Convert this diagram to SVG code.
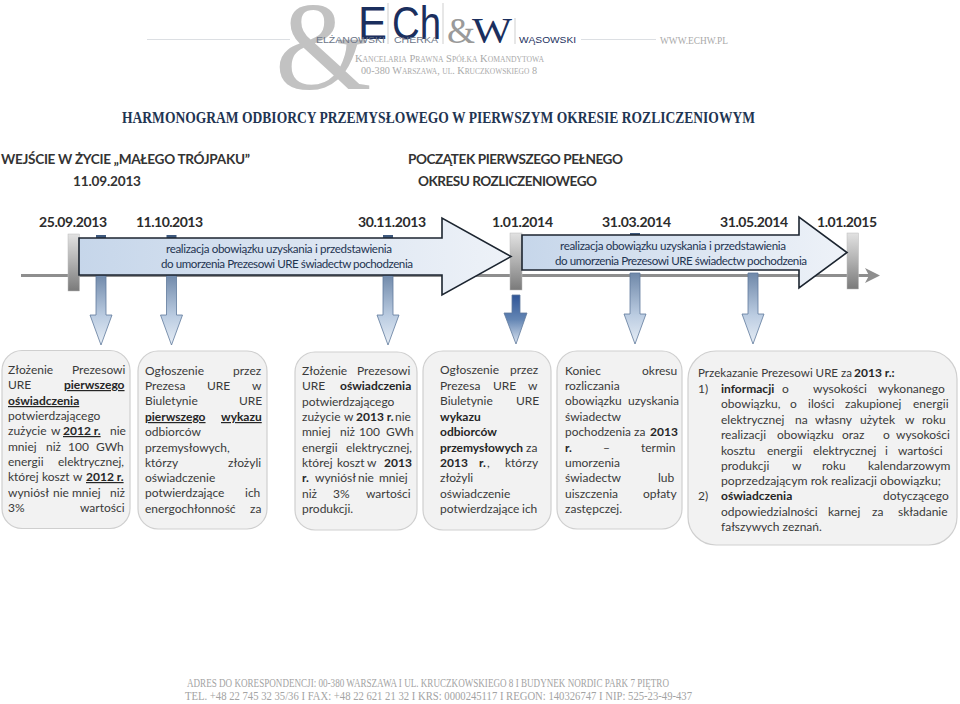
<svg xmlns="http://www.w3.org/2000/svg" width="960" height="704" viewBox="0 0 960 704">
<style>
text{font-family:Lato,"Noto Sans",sans-serif}
.s{font-family:"Liberation Serif",serif}
.t{font-size:12px;fill:#3a3a3a}
.b{font-weight:700;fill:#262626}
.u{font-weight:700;fill:#262626;text-decoration:underline}
.h{font-size:13.6px;font-weight:700;fill:#333}
.d{font-size:14px;font-weight:700;fill:#2c2c2c}
.a{font-size:11.6px;fill:#1f3552;text-anchor:start}
.box{fill:#f2f2f2;stroke:#cfcfcf;stroke-width:1.2}
.big{stroke:#1c2530;stroke-width:1.6;stroke-linejoin:miter}
.dn{stroke:#5f7a9c;stroke-width:.8}
.bar{fill:url(#gb)}
.stub{fill:#3f5a7e}
.lg{fill:#a9a9a9}
.nv{fill:#1b2f5e}
.sn{font-family:"Liberation Sans",sans-serif}
.hr{stroke:#dcdfe3;stroke-width:1.2}
.vr{stroke:#cfcfcf;stroke-width:1}
</style>
<defs>
<linearGradient id="gb" x1="0" y1="0" x2="0" y2="1"><stop offset="0" stop-color="#e2e2e2"/><stop offset=".5" stop-color="#b0b0b0"/><stop offset="1" stop-color="#7a7a7a"/></linearGradient>
<linearGradient id="g1" gradientUnits="userSpaceOnUse" x1="79" y1="0" x2="511" y2="0"><stop offset="0" stop-color="#c6d6ea"/><stop offset="1" stop-color="#eef2f8"/></linearGradient>
<linearGradient id="g2" gradientUnits="userSpaceOnUse" x1="522" y1="0" x2="847" y2="0"><stop offset="0" stop-color="#c6d6ea"/><stop offset="1" stop-color="#eef2f8"/></linearGradient>
<linearGradient id="gd" x1="0" y1="0" x2="0" y2="1"><stop offset="0" stop-color="#6f88a9"/><stop offset=".6" stop-color="#bccde2"/><stop offset="1" stop-color="#e6edf5"/></linearGradient>
<linearGradient id="gk" x1="0" y1="0" x2="0" y2="1"><stop offset="0" stop-color="#2f5597"/><stop offset=".5" stop-color="#6486b4"/><stop offset="1" stop-color="#dbe4f0"/></linearGradient>
<clipPath id="cl"><rect x="688" y="345" width="270" height="187"/></clipPath>
<path id="da" d="M-5 0H5V41H11L0 71L-11 41H-5Z"/>
</defs>

<g id="logo">
<line class="hr" x1="147" y1="39.500" x2="290" y2="39.500"/>
<line class="hr" x1="581" y1="39.500" x2="656" y2="39.500"/>
<text class="s" x="275" y="89" font-size="124" fill="#c2c2c2">&amp;</text>
<text x="358" y="39" font-size="47" class="nv sn" textLength="29" lengthAdjust="spacingAndGlyphs">E</text>
<text x="392" y="39" font-size="47" class="nv sn" textLength="49" lengthAdjust="spacingAndGlyphs">Ch</text>
<text class="s" x="447" y="43" font-size="36" fill="#9a9a9a">&amp;</text>
<text class="s nv" x="472" y="43" font-size="36" textLength="40" lengthAdjust="spacingAndGlyphs">W</text>
<line class="vr" x1="388" y1="3" x2="388" y2="44"/><line class="vr" x1="443" y1="3" x2="443" y2="44"/><line class="vr" x1="515" y1="18" x2="515" y2="44"/>
<text x="316" y="42.500" font-size="9" fill="#6d7688" class="sn" textLength="69" lengthAdjust="spacingAndGlyphs">ELŻANOWSKI</text>
<text x="394" y="42.500" font-size="9" fill="#6d7688" class="sn" textLength="44" lengthAdjust="spacingAndGlyphs">CHERKA</text>
<text x="519" y="43" font-size="9.500" fill="#1b2f5e" class="sn" textLength="57" lengthAdjust="spacingAndGlyphs">WĄSOWSKI</text>
<text class="s lg" x="660" y="44" font-size="11" textLength="68" lengthAdjust="spacingAndGlyphs">WWW.ECHW.PL</text>
<text class="s lg" x="355" y="62" font-size="11" font-variant="small-caps" textLength="189" lengthAdjust="spacingAndGlyphs">Kancelaria Prawna Spółka Komandytowa</text>
<text class="s lg" x="361" y="74" font-size="11" font-variant="small-caps" textLength="176" lengthAdjust="spacingAndGlyphs">00-380 Warszawa, ul. Kruczkowskiego 8</text>
</g>

<text id="title" class="s" x="122" y="123" font-size="17" font-weight="700" fill="#1f3552" textLength="633" lengthAdjust="spacingAndGlyphs">HARMONOGRAM ODBIORCY PRZEMYSŁOWEGO W PIERWSZYM OKRESIE ROZLICZENIOWYM</text>

<g id="labels">
<text class="h" x="1" y="164" textLength="249">WEJŚCIE W ŻYCIE „MAŁEGO TRÓJPAKU”</text>
<text class="h" x="73" y="186" textLength="68">11.09.2013</text>
<text class="h" x="408" y="164" textLength="215">POCZĄTEK PIERWSZEGO PEŁNEGO</text>
<text class="h" x="418" y="186" textLength="179">OKRESU ROZLICZENIOWEGO</text>
<text class="d" x="39" y="227" textLength="68">25.09.2013</text>
<text class="d" x="136" y="227" textLength="67">11.10.2013</text>
<text class="d" x="358" y="227" textLength="68">30.11.2013</text>
<text class="d" x="492" y="227" textLength="61">1.01.2014</text>
<text class="d" x="602" y="227" textLength="69">31.03.2014</text>
<text class="d" x="720" y="227" textLength="68">31.05.2014</text>
<text class="d" x="817" y="227" textLength="60">1.01.2015</text>
</g>

<g id="connectors">
<line x1="21" y1="275.500" x2="872" y2="275.500" stroke="#8e8e8e" stroke-width="3"/>
<path d="M865 268L880 275.500L865 283L869 275.500Z" fill="#8e8e8e"/>
<rect class="stub" x="96" y="235" width="10" height="4"/>
<rect class="stub" x="166.500" y="235" width="10" height="4"/>
<rect class="stub" x="383" y="235" width="10" height="4"/>
<rect class="stub" x="630" y="233" width="10" height="3"/>
<use href="#da" class="dn" x="101" y="274" fill="url(#gd)"/>
<use href="#da" class="dn" x="171.500" y="274" fill="url(#gd)"/>
<use href="#da" class="dn" x="388" y="274" fill="url(#gd)"/>
<use href="#da" class="dn" x="635" y="273" fill="url(#gd)"/>
<use href="#da" class="dn" x="753" y="273" fill="url(#gd)"/>
<path class="dn" d="M512 295H520V313H527L516 344L504 313H512Z" fill="url(#gk)"/>
</g>

<g id="bar1"><rect class="bar" x="68" y="234" width="11.500" height="57" stroke="#bbb" stroke-width=".5"/></g>
<g id="bar2"><rect class="bar" x="510" y="233" width="12" height="57" stroke="#bbb" stroke-width=".5"/></g>
<g id="bar3"><rect class="bar" x="847" y="233" width="11.500" height="56" stroke="#bbb" stroke-width=".5"/></g>

<g id="arrow1">
<path class="big" fill="url(#g1)" d="M79 238H442V218L511 256.500L442 295V275H79Z"/>
<text class="a" x="166" y="253" textLength="226">realizacja obowiązku uzyskania i przedstawienia</text>
<text class="a" x="161" y="268" textLength="252">do umorzenia Prezesowi URE świadectw pochodzenia</text>
</g>
<g id="arrow2">
<path class="big" fill="url(#g2)" d="M522 235H799V217L847 252.500L799 288V270H522Z"/>
<text class="a" x="560" y="250" textLength="226">realizacja obowiązku uzyskania i przedstawienia</text>
<text class="a" x="555" y="265" textLength="252">do umorzenia Prezesowi URE świadectw pochodzenia</text>
</g>

<g id="box1"><rect class="box" x="2" y="350.500" width="128" height="178" rx="20"/>
<text class="t" y="374"><tspan x="8">Złożenie</tspan><tspan x="72">Prezesowi</tspan></text>
<text class="t" y="389"><tspan x="8">URE</tspan><tspan class="u" x="64">pierwszego</tspan></text>
<text class="t" y="405"><tspan class="u" x="8">oświadczenia</tspan></text>
<text class="t" y="420"><tspan x="8">potwierdzającego</tspan></text>
<text class="t" y="435"><tspan x="8">zużycie</tspan><tspan x="51">w</tspan><tspan class="u" x="63">2012 r.</tspan><tspan x="110">nie</tspan></text>
<text class="t" y="451"><tspan x="8">mniej</tspan><tspan x="46">niż</tspan><tspan x="68">100</tspan><tspan x="96">GWh</tspan></text>
<text class="t" y="466"><tspan x="8">energii</tspan><tspan x="58">elektrycznej,</tspan></text>
<text class="t" y="481"><tspan x="8">której</tspan><tspan x="42">koszt</tspan><tspan x="73">w</tspan><tspan class="u" x="86">2012 r.</tspan></text>
<text class="t" y="497"><tspan x="8">wyniósł</tspan><tspan x="53">nie</tspan><tspan x="72">mniej</tspan><tspan x="110">niż</tspan></text>
<text class="t" y="512"><tspan x="8">3%</tspan><tspan x="80">wartości</tspan></text>
</g>

<g id="box2"><rect class="box" x="138" y="351" width="129" height="178" rx="20"/>
<text class="t" y="375"><tspan x="145">Ogłoszenie</tspan><tspan x="233">przez</tspan></text>
<text class="t" y="390"><tspan x="145">Prezesa</tspan><tspan x="207">URE</tspan><tspan x="252">w</tspan></text>
<text class="t" y="405"><tspan x="145">Biuletynie</tspan><tspan x="239">URE</tspan></text>
<text class="t" y="421"><tspan class="u" x="145">pierwszego</tspan><tspan class="u" x="221">wykazu</tspan></text>
<text class="t" y="436"><tspan x="145">odbiorców</tspan></text>
<text class="t" y="452"><tspan x="145">przemysłowych,</tspan></text>
<text class="t" y="467"><tspan x="145">którzy</tspan><tspan x="228">złożyli</tspan></text>
<text class="t" y="482"><tspan x="145">oświadczenie</tspan></text>
<text class="t" y="497"><tspan x="145">potwierdzające</tspan><tspan x="245">ich</tspan></text>
<text class="t" y="513"><tspan x="145">energochłonność</tspan><tspan x="250">za</tspan></text>
</g>

<g id="box3"><rect class="box" x="295" y="352" width="122" height="178" rx="20"/>
<text class="t" y="375"><tspan x="302">Złożenie</tspan><tspan x="357">Prezesowi</tspan></text>
<text class="t" y="390"><tspan x="302">URE</tspan><tspan class="b" x="340">oświadczenia</tspan></text>
<text class="t" y="406"><tspan x="302">potwierdzającego</tspan></text>
<text class="t" y="421"><tspan x="302">zużycie</tspan><tspan x="344">w</tspan><tspan class="b" x="356">2013 r.</tspan><tspan x="395">nie</tspan></text>
<text class="t" y="436"><tspan x="302">mniej</tspan><tspan x="340">niż</tspan><tspan x="359">100</tspan><tspan x="386">GWh</tspan></text>
<text class="t" y="452"><tspan x="302">energii</tspan><tspan x="346">elektrycznej,</tspan></text>
<text class="t" y="467"><tspan x="302">której</tspan><tspan x="337">koszt</tspan><tspan x="367">w</tspan><tspan class="b" x="384">2013</tspan></text>
<text class="t" y="482"><tspan class="b" x="302">r.</tspan><tspan x="315">wyniósł</tspan><tspan x="358">nie</tspan><tspan x="379">mniej</tspan></text>
<text class="t" y="498"><tspan x="302">niż</tspan><tspan x="333">3%</tspan><tspan x="366">wartości</tspan></text>
<text class="t" y="513"><tspan x="302">produkcji.</tspan></text>
</g>

<g id="box4"><rect class="box" x="423" y="351" width="128" height="179" rx="20"/>
<text class="t" y="374"><tspan x="440">Ogłoszenie</tspan><tspan x="510">przez</tspan></text>
<text class="t" y="390"><tspan x="440">Prezesa</tspan><tspan x="493">URE</tspan><tspan x="528">w</tspan></text>
<text class="t" y="405"><tspan x="440">Biuletynie</tspan><tspan x="516">URE</tspan></text>
<text class="t" y="421"><tspan class="b" x="440">wykazu</tspan></text>
<text class="t" y="436"><tspan class="b" x="440">odbiorców</tspan></text>
<text class="t" y="452"><tspan class="b" x="440" textLength="83">przemysłowych</tspan><tspan x="526">za</tspan></text>
<text class="t" y="467"><tspan class="b" x="440">2013</tspan><tspan class="b" x="479">r.</tspan><tspan x="487">,</tspan><tspan x="505">którzy</tspan></text>
<text class="t" y="482"><tspan x="440">złożyli</tspan></text>
<text class="t" y="498"><tspan x="440">oświadczenie</tspan></text>
<text class="t" y="513"><tspan x="440">potwierdzające</tspan><tspan x="522">ich</tspan></text>
</g>

<g id="box5"><rect class="box" x="557" y="351" width="125" height="178" rx="20"/>
<text class="t" y="375"><tspan x="565">Koniec</tspan><tspan x="642">okresu</tspan></text>
<text class="t" y="390"><tspan x="565">rozliczania</tspan></text>
<text class="t" y="405"><tspan x="565">obowiązku</tspan><tspan x="628">uzyskania</tspan></text>
<text class="t" y="421"><tspan x="565">świadectw</tspan></text>
<text class="t" y="436"><tspan x="565" textLength="66" lengthAdjust="spacingAndGlyphs">pochodzenia</tspan><tspan x="634">za</tspan><tspan class="b" x="650">2013</tspan></text>
<text class="t" y="452"><tspan class="b" x="565">r.</tspan><tspan x="603">–</tspan><tspan x="641">termin</tspan></text>
<text class="t" y="467"><tspan x="565">umorzenia</tspan></text>
<text class="t" y="482"><tspan x="565">świadectw</tspan><tspan x="658">lub</tspan></text>
<text class="t" y="498"><tspan x="565">uiszczenia</tspan><tspan x="643">opłaty</tspan></text>
<text class="t" y="513"><tspan x="565">zastępczej.</tspan></text>
</g>

<g id="box6"><rect class="box" x="688" y="351" width="269" height="194" rx="28"/>
<text class="t" x="698" y="377" textLength="154" lengthAdjust="spacingAndGlyphs">Przekazanie Prezesowi URE za</text>
<text class="t b" x="854" y="377">2013 r.:</text>
<text class="t" y="393"><tspan x="698">1)</tspan><tspan class="b" x="721">informacji</tspan><tspan x="782">o</tspan><tspan x="813">wysokości</tspan><tspan x="878">wykonanego</tspan></text>
<text class="t" y="408"><tspan x="721">obowiązku,</tspan><tspan x="790">o</tspan><tspan x="808">ilości</tspan><tspan x="845">zakupionej</tspan><tspan x="913">energii</tspan></text>
<text class="t" y="424"><tspan x="721">elektrycznej</tspan><tspan x="795">na</tspan><tspan x="815">własny</tspan><tspan x="860">użytek</tspan><tspan x="905">w</tspan><tspan x="922">roku</tspan></text>
<text class="t" y="439"><tspan x="721">realizacji</tspan><tspan x="777">obowiązku</tspan><tspan x="842">oraz</tspan><tspan x="883">o</tspan><tspan x="896">wysokości</tspan></text>
<text class="t" y="455"><tspan x="721">kosztu</tspan><tspan x="767">energii</tspan><tspan x="813">elektrycznej</tspan><tspan x="885">i</tspan><tspan x="898">wartości</tspan></text>
<text class="t" y="470"><tspan x="721">produkcji</tspan><tspan x="792">w</tspan><tspan x="822">roku</tspan><tspan x="868">kalendarzowym</tspan></text>
<text class="t" x="721" y="485" textLength="220" lengthAdjust="spacingAndGlyphs">poprzedzającym rok realizacji obowiązku;</text>
<text class="t" y="500"><tspan x="698">2)</tspan><tspan class="b" x="721">oświadczenia</tspan><tspan x="883">dotyczącego</tspan></text>
<text class="t" y="516"><tspan x="721">odpowiedzialności</tspan><tspan x="828">karnej</tspan><tspan x="872">za</tspan><tspan x="898">składanie</tspan></text>
<text class="t" y="531" clip-path="url(#cl)"><tspan x="721">fałszywych zeznań.</tspan></text>
</g>

<g id="footer">
<text class="s" x="187" y="687" font-size="12.500" fill="#a3a3a3" textLength="482" lengthAdjust="spacingAndGlyphs">ADRES DO KORESPONDENCJI: 00-380 WARSZAWA  I  UL. KRUCZKOWSKIEGO 8  I  BUDYNEK NORDIC PARK 7 PIĘTRO</text>
<text class="s" x="185" y="700" font-size="12.500" fill="#a3a3a3" textLength="507" lengthAdjust="spacingAndGlyphs">TEL. +48 22 745 32 35/36 I FAX: +48 22 621 21 32  I  KRS: 0000245117  I  REGON: 140326747  I  NIP: 525-23-49-437</text>
</g>
</svg>
